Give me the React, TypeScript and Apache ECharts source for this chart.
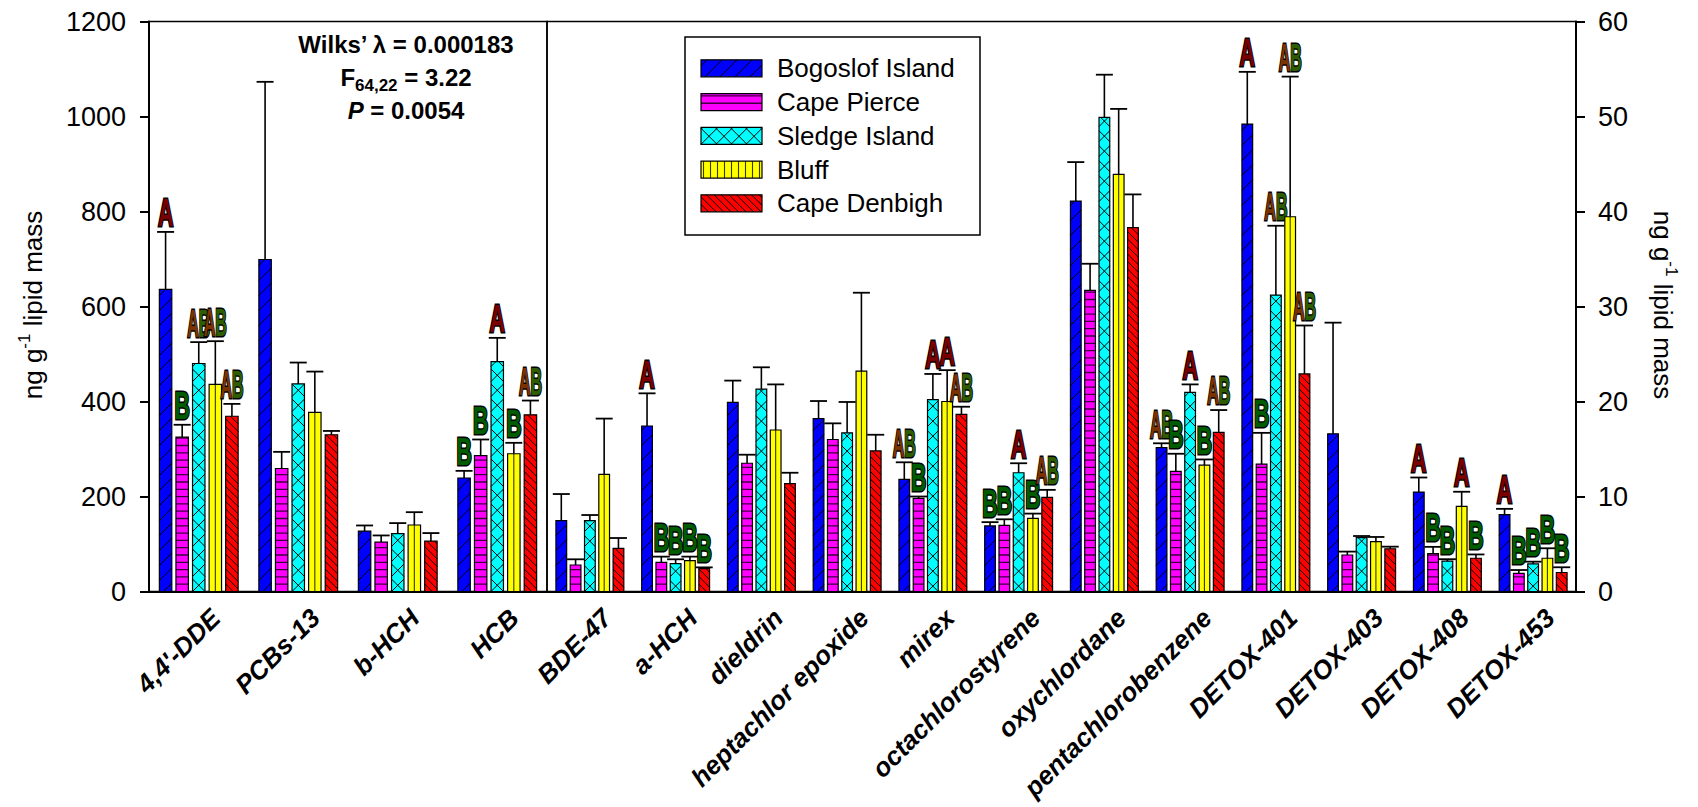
import React, { useEffect, useRef } from 'react';
import * as echarts from 'echarts';

// ---------------- data ----------------
const sites = ['Bogoslof Island', 'Cape Pierce', 'Sledge Island', 'Bluff', 'Cape Denbigh'];

// Left panel (left axis, 0-1200)
const leftCategories = ["4,4'-DDE", 'PCBs-13', 'b-HCH', 'HCB'];
const bogoslofLeft = [636, 699, 127, 239];
const capePierceLeft = [325, 259, 104, 286];
const sledgeLeft = [480, 437, 122, 484];
const bluffLeft = [436, 377, 140, 290];
const capeDenbighLeft = [369, 330, 106, 372];

const bogoslofLeftSE = [121, 374, 12, 15];
const capePierceLeftSE = [26, 35, 14, 34];
const sledgeLeftSE = [45, 45, 22, 50];
const bluffLeftSE = [91, 86, 27, 23];
const capeDenbighLeftSE = [26, 8, 17, 30];

const bogoslofLeftLetters = ['A', '', '', 'B'];
const capePierceLeftLetters = ['B', '', '', 'B'];
const sledgeLeftLetters = ['AB', '', '', 'A'];
const bluffLeftLetters = ['AB', '', '', 'B'];
const capeDenbighLeftLetters = ['AB', '', '', 'AB'];

// Right panel (right axis, 0-60)
const rightCategories = [
  'BDE-47', 'a-HCH', 'dieldrin', 'heptachlor epoxide', 'mirex', 'octachlorostyrene',
  'oxychlordane', 'pentachlorobenzene', 'DETOX-401', 'DETOX-403', 'DETOX-408', 'DETOX-453',
];
const bogoslofRight = [7.46, 17.42, 19.9, 18.2, 11.8, 6.9, 41.1, 15.14, 49.2, 16.6, 10.47, 8.1];
const capePierceRight = [2.79, 3.07, 13.5, 16.0, 9.8, 6.96, 31.7, 12.65, 13.4, 3.84, 4.0, 1.9];
const sledgeRight = [7.46, 2.93, 21.3, 16.7, 20.2, 12.5, 49.9, 20.97, 31.2, 5.67, 3.2, 2.9];
const bluffRight = [12.33, 3.25, 17.0, 23.2, 20.0, 7.7, 43.9, 13.3, 39.45, 5.25, 8.97, 3.5];
const capeDenbighRight = [4.54, 2.4, 11.35, 14.8, 18.65, 9.9, 38.3, 16.75, 22.9, 4.5, 3.5, 2.0];

const bogoslofRightSE = [2.8, 3.44, 2.3, 1.85, 1.8, 0.4, 4.1, 0.46, 5.5, 11.7, 1.53, 0.6];
const capePierceRightSE = [0.6, 0.6, 0.9, 1.7, 0.2, 0.64, 2.8, 1.85, 3.3, 0.36, 0.7, 0.36];
const sledgeRightSE = [0.59, 0.46, 2.3, 3.25, 2.7, 1.0, 4.5, 0.83, 7.3, 0.17, 0.2, 0.24];
const bluffRightSE = [5.87, 0.42, 4.8, 8.25, 3.3, 0.5, 6.9, 0.6, 14.75, 0.49, 1.53, 1.05];
const capeDenbighRightSE = [1.09, 0.14, 1.15, 1.7, 0.8, 0.8, 3.5, 2.35, 5.1, 0.22, 0.4, 0.55];

const bogoslofRightLetters = ['', 'A', '', '', 'AB', 'B', '', 'AB', 'A', '', 'A', 'A'];
const capePierceRightLetters = ['', 'B', '', '', 'B', 'B', '', 'B', 'B', '', 'B', 'B'];
const sledgeRightLetters = ['', 'B', '', '', 'A', 'A', '', 'A', 'AB', '', 'B', 'B'];
const bluffRightLetters = ['', 'B', '', '', 'A', 'B', '', 'B', 'AB', '', 'A', 'B'];
const capeDenbighRightLetters = ['', 'B', '', '', 'AB', 'AB', '', 'AB', 'AB', '', 'B', 'B'];

const leftAxisTicks = { min: 0, max: 1200, interval: 200 };
const rightAxisTicks = { min: 0, max: 60, interval: 10 };

const statLines = ['Wilks’ λ = 0.000183', 'F', '64,22', ' = 3.22', 'P', ' = 0.0054'];
const axisTitle = ['ng g', '-1', ' lipid mass'];

// ---------------- styles ----------------
const FONT = "'Liberation Sans', Arial, Helvetica, sans-serif";
const siteColors = ['#0000ff', '#ff00ff', '#00ffff', '#ffff00', '#ff0000'];
const patternColors = ['#000000', '#3d003d', '#000000', '#3a3a00', '#000000'];
const patternWidths = [1, 1.3, 1, 1.1, 1];

type Seg = [number, number, number, number];

function diagUp(x0: number, y0: number, x1: number, y1: number, sp: number, phase: number): Seg[] {
  // lines x + y = c
  const segs: Seg[] = [];
  const start = Math.ceil((x0 + y0 - phase) / sp) * sp + phase;
  for (let c = start; c < x1 + y1; c += sp) {
    const xa = Math.max(x0, c - y1);
    const xb = Math.min(x1, c - y0);
    if (xb - xa > 0.4) segs.push([xa, c - xa, xb, c - xb]);
  }
  return segs;
}
function diagDown(x0: number, y0: number, x1: number, y1: number, sp: number, phase: number): Seg[] {
  // lines x - y = c
  const segs: Seg[] = [];
  const start = Math.ceil((x0 - y1 - phase) / sp) * sp + phase;
  for (let c = start; c < x1 - y0; c += sp) {
    const xa = Math.max(x0, y0 + c);
    const xb = Math.min(x1, y1 + c);
    if (xb - xa > 0.4) segs.push([xa, xa - c, xb, xb - c]);
  }
  return segs;
}
function patternSegments(s: number, x0: number, y0: number, x1: number, y1: number): Seg[] {
  if (y1 - y0 < 0.5) return [];
  if (s === 0) return diagUp(x0, y0, x1, y1, 15, x0 + y1 + 4);
  if (s === 1) {
    const out: Seg[] = [];
    for (let y = y1 - 7.3; y > y0 + 1; y -= 7.3) out.push([x0, y, x1, y]);
    return out;
  }
  if (s === 2) {
    return diagUp(x0, y0, x1, y1, 15, x0 + y1).concat(diagDown(x0, y0, x1, y1, 15, x1 - y1));
  }
  if (s === 3) {
    const out: Seg[] = [];
    const cx = (x0 + x1) / 2;
    for (let k = -10; k <= 10; k++) {
      const x = cx + k * 7;
      if (x > x0 + 1 && x < x1 - 1) out.push([x, y0, x, y1]);
    }
    return out;
  }
  return diagDown(x0, y0, x1, y1, 7.5, x0 - y1);
}
function segsToPath(segs: Seg[]): string {
  return segs
    .map(([a, b, c, d]) => `M${a.toFixed(2)} ${b.toFixed(2)}L${c.toFixed(2)} ${d.toFixed(2)}`)
    .join('');
}

function letterElement(code: string, x: number, yBottom: number) {
  const fontSize = 38;
  const y = yBottom - (fontSize * 0.716) / 2;
  const base = { fontSize, fontWeight: 'bold', fontFamily: FONT, stroke: '#000', lineWidth: 3 };
  if (code === 'AB') {
    return {
      type: 'text', x, y, scaleX: 0.42,
      style: {
        text: '{a|A}{b|B}', align: 'center', verticalAlign: 'middle', ...base,
        rich: { a: { ...base, fill: '#7a3300' }, b: { ...base, fill: '#2e5c00' } },
      },
    };
  }
  return {
    type: 'text', x, y, scaleX: 0.56,
    style: { text: code, ...base, fill: code === 'A' ? '#7a0000' : '#005c00', align: 'center', verticalAlign: 'middle' },
  };
}

function makeRenderItem(categories: string[], letters: string[][]) {
  return (_params: any, api: any) => {
    const c = api.value(0) as number;
    const s = api.value(1) as number;
    const v = api.value(2) as number;
    const se = api.value(3) as number;
    const band = api.size([1, 0])[0];
    const base = api.coord([c, 0]);
    const topPt = api.coord([c, v]);
    const errPt = api.coord([c, v + se]);
    const pitch = band / 6;
    const w = band * 0.125;
    const cx = base[0] + (s - 2) * pitch;
    const x0 = cx - w / 2;
    const x1 = cx + w / 2;
    const y0 = topPt[1];
    const y1 = base[1];
    const children: any[] = [];
    children.push({
      type: 'rect', shape: { x: x0, y: y0, width: w, height: y1 - y0 },
      style: { fill: siteColors[s], stroke: 'none' },
    });
    const segs = patternSegments(s, x0, y0, x1, y1);
    if (segs.length) {
      children.push({
        type: 'path', shape: { pathData: segsToPath(segs) },
        style: { fill: 'none', stroke: patternColors[s], lineWidth: patternWidths[s] },
      });
    }
    children.push({
      type: 'rect', shape: { x: x0, y: y0, width: w, height: y1 - y0 },
      style: { fill: 'none', stroke: '#000', lineWidth: 1.2 },
    });
    const capHalf = 8.5;
    children.push({
      type: 'line', shape: { x1: cx, y1: y0, x2: cx, y2: errPt[1] },
      style: { stroke: '#000', lineWidth: 1.6 },
    });
    children.push({
      type: 'line', shape: { x1: cx - capHalf, y1: errPt[1], x2: cx + capHalf, y2: errPt[1] },
      style: { stroke: '#000', lineWidth: 1.8 },
    });
    const code = letters[s][c];
    if (code) children.push(letterElement(code, cx, errPt[1] - 5));
    if (s === 0) {
      children.push({
        type: 'text', x: base[0] + 17, y: base[1] + 22, rotation: Math.PI / 4,
        style: {
          text: categories[c], fontSize: 26, fontWeight: 'bold', fontStyle: 'italic', fontFamily: FONT,
          fill: '#000', align: 'right', verticalAlign: 'middle',
        },
      });
    }
    return { type: 'group', children };
  };
}

function buildItems(categories: string[], means: number[][], ses: number[][]) {
  const items: number[][] = [];
  categories.forEach((_, c) => {
    means.forEach((m, s) => {
      items.push([c, s, m[c], ses[s][c]]);
    });
  });
  return items;
}

function buildLegend() {
  const els: any[] = [];
  els.push({
    type: 'rect', shape: { x: 685, y: 37, width: 295, height: 198 },
    style: { fill: '#fff', stroke: '#000', lineWidth: 1.5 },
  });
  sites.forEach((name, i) => {
    const yc = 68.3 + i * 33.75;
    const x0 = 701, x1 = 762, y0 = yc - 8.5, y1 = yc + 8.5;
    els.push({ type: 'rect', shape: { x: x0, y: y0, width: x1 - x0, height: y1 - y0 }, style: { fill: siteColors[i], stroke: 'none' } });
    patternSegments(i, x0, y0, x1, y1).forEach(([a, b, c, d]) => {
      els.push({ type: 'line', shape: { x1: a, y1: b, x2: c, y2: d }, style: { stroke: patternColors[i], lineWidth: patternWidths[i] } });
    });
    els.push({ type: 'rect', shape: { x: x0, y: y0, width: x1 - x0, height: y1 - y0 }, style: { fill: 'none', stroke: '#000', lineWidth: 1.2 } });
    els.push({
      type: 'text', x: 777, y: yc,
      style: { text: name, fontSize: 26, fontFamily: FONT, fill: '#000', align: 'left', verticalAlign: 'middle' },
    });
  });
  return els;
}

function buildTexts() {
  const bold = { fontSize: 24, fontWeight: 'bold', fontFamily: FONT, fill: '#000' };
  const titleRich = {
    n: { fontSize: 26, fontFamily: FONT, fill: '#000', lineHeight: 34 },
    s: { fontSize: 17, fontFamily: FONT, fill: '#000', lineHeight: 17, verticalAlign: 'top' },
  };
  const titleText = `{n|${axisTitle[0]}}{s|${axisTitle[1]}}{n|${axisTitle[2]}}`;
  return [
    { type: 'text', x: 406, y: 44, style: { text: statLines[0], ...bold, align: 'center', verticalAlign: 'middle' } },
    {
      type: 'text', x: 406, y: 77,
      style: {
        text: `{b|${statLines[1]}}{s|${statLines[2]}}{b|${statLines[3]}}`, align: 'center', verticalAlign: 'middle',
        rich: {
          b: { ...bold, lineHeight: 34 },
          s: { fontSize: 17, fontWeight: 'bold', fontFamily: FONT, fill: '#000', lineHeight: 17, verticalAlign: 'bottom' },
        },
      },
    },
    {
      type: 'text', x: 406, y: 110,
      style: {
        text: `{i|${statLines[4]}}{b|${statLines[5]}}`, align: 'center', verticalAlign: 'middle',
        rich: { i: { ...bold, fontStyle: 'italic' }, b: { ...bold } },
      },
    },
    { type: 'text', x: 33, y: 305, rotation: Math.PI / 2, style: { text: titleText, align: 'center', verticalAlign: 'middle', rich: titleRich } },
    { type: 'text', x: 1663, y: 305, rotation: -Math.PI / 2, style: { text: titleText, align: 'center', verticalAlign: 'middle', rich: titleRich } },
  ];
}

function buildOption() {
  const leftMeans = [bogoslofLeft, capePierceLeft, sledgeLeft, bluffLeft, capeDenbighLeft];
  const leftSE = [bogoslofLeftSE, capePierceLeftSE, sledgeLeftSE, bluffLeftSE, capeDenbighLeftSE];
  const leftLetters = [bogoslofLeftLetters, capePierceLeftLetters, sledgeLeftLetters, bluffLeftLetters, capeDenbighLeftLetters];
  const rightMeans = [bogoslofRight, capePierceRight, sledgeRight, bluffRight, capeDenbighRight];
  const rightSE = [bogoslofRightSE, capePierceRightSE, sledgeRightSE, bluffRightSE, capeDenbighRightSE];
  const rightLetters = [bogoslofRightLetters, capePierceRightLetters, sledgeRightLetters, bluffRightLetters, capeDenbighRightLetters];

  const axisLine = { show: true, lineStyle: { color: '#000', width: 2 } };
  const tickLabel = { fontSize: 27, color: '#000', fontFamily: FONT, formatter: (v: number) => String(v) };

  return {
    animation: false,
    backgroundColor: '#fff',
    grid: [
      { left: 149, top: 21.5, width: 398, height: 570, show: true, borderColor: '#000', borderWidth: 1.5, containLabel: false, outerBoundsMode: 'none' },
      { left: 547, top: 21.5, width: 1029, height: 570, show: true, borderColor: '#000', borderWidth: 1.5, containLabel: false, outerBoundsMode: 'none' },
    ],
    xAxis: [
      { gridIndex: 0, type: 'category', data: leftCategories, axisLine, axisTick: { show: false }, axisLabel: { show: false }, splitLine: { show: false } },
      { gridIndex: 1, type: 'category', data: rightCategories, axisLine, axisTick: { show: false }, axisLabel: { show: false }, splitLine: { show: false } },
    ],
    yAxis: [
      {
        gridIndex: 0, type: 'value', position: 'left', ...leftAxisTicks,
        axisLine, axisTick: { show: true, length: 9, lineStyle: { color: '#000', width: 2 } },
        axisLabel: { ...tickLabel, margin: 23 }, splitLine: { show: false },
      },
      {
        gridIndex: 1, type: 'value', position: 'right', ...rightAxisTicks,
        axisLine, axisTick: { show: true, length: 9, lineStyle: { color: '#000', width: 2 } },
        axisLabel: { ...tickLabel, margin: 22 }, splitLine: { show: false },
      },
    ],
    series: [
      {
        type: 'custom', name: 'left', xAxisIndex: 0, yAxisIndex: 0, silent: true, clip: false, z: 3,
        renderItem: makeRenderItem(leftCategories, leftLetters),
        encode: { x: 0, y: 2 },
        data: buildItems(leftCategories, leftMeans, leftSE),
      },
      {
        type: 'custom', name: 'right', xAxisIndex: 1, yAxisIndex: 1, silent: true, clip: false, z: 3,
        renderItem: makeRenderItem(rightCategories, rightLetters),
        encode: { x: 0, y: 2 },
        data: buildItems(rightCategories, rightMeans, rightSE),
      },
    ],
    graphic: [...buildLegend(), ...buildTexts()],
  };
}

export default function App() {
  const ref = useRef<HTMLDivElement>(null);
  useEffect(() => {
    if (!ref.current) return;
    const chart = echarts.init(ref.current, undefined, { renderer: 'svg' });
    chart.setOption(buildOption() as any);
    return () => chart.dispose();
  }, []);
  return (
    <div
      ref={ref}
      style={{ position: 'fixed', left: 0, top: 0, width: 1698, height: 807, background: '#fff' }}
    />
  );
}
